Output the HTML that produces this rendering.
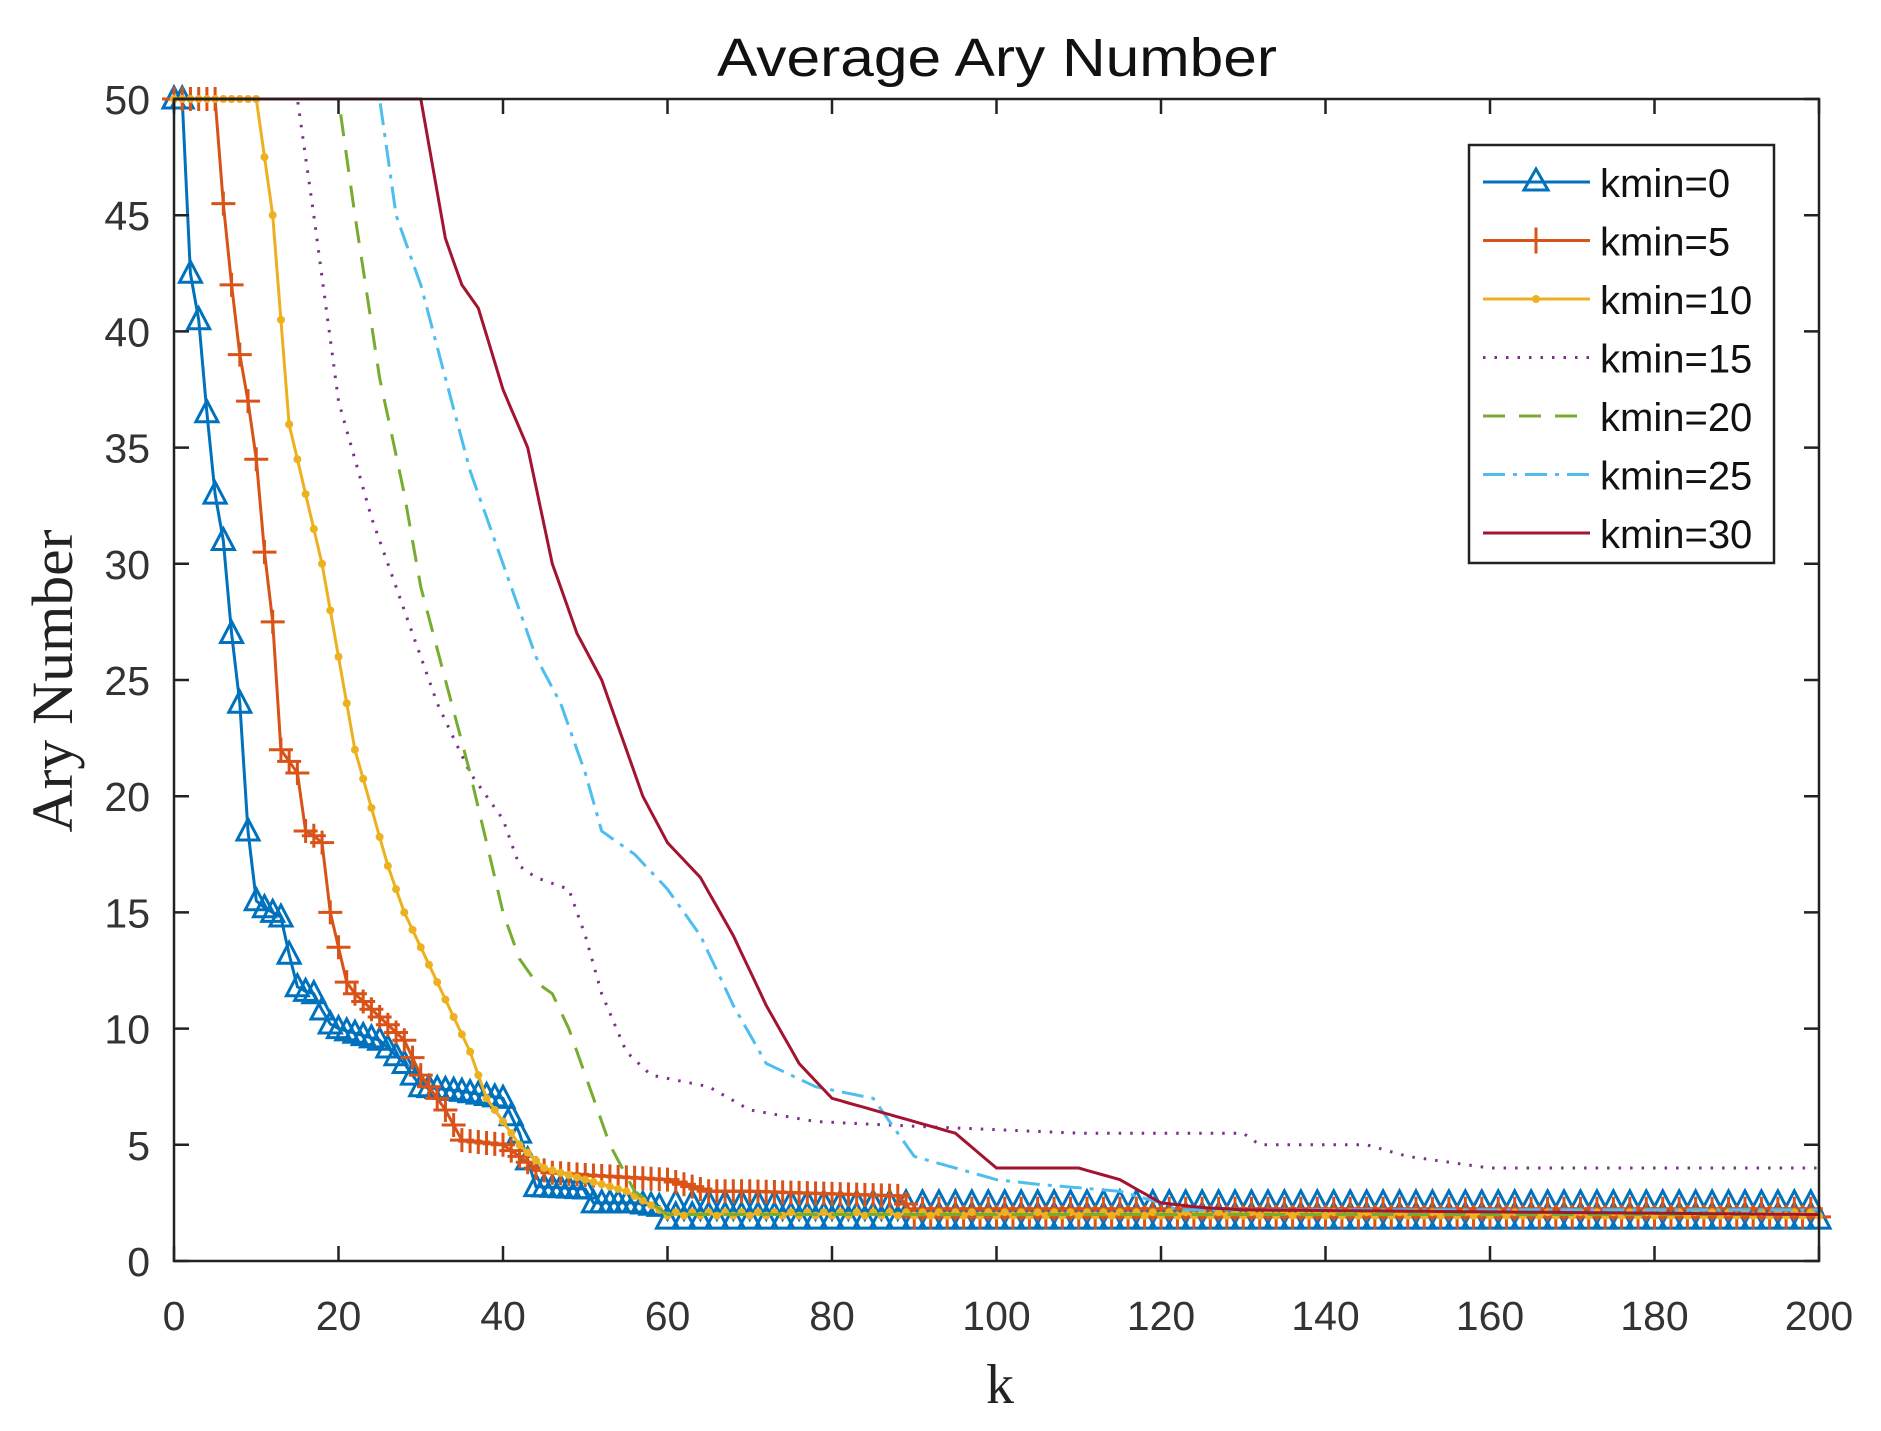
<!DOCTYPE html>
<html><head><meta charset="utf-8"><style>
html,body{margin:0;padding:0;background:#fff;}
svg{display:block;}
</style></head><body>
<svg id="s" width="1881" height="1431" xmlns="http://www.w3.org/2000/svg">
<rect width="1881" height="1431" fill="#fff"/>
<g id="series"></g>
<g id="axes"></g>
<text x="997" y="76" font-family="Liberation Sans, sans-serif" font-size="54" text-anchor="middle" fill="#111" textLength="560" lengthAdjust="spacingAndGlyphs">Average Ary Number</text>
<text x="1000" y="1403" font-family="Liberation Serif, serif" font-size="56" text-anchor="middle" fill="#222">k</text>
<text transform="translate(72,681) rotate(-90)" font-family="Liberation Serif, serif" font-size="58" text-anchor="middle" fill="#222" textLength="303" lengthAdjust="spacingAndGlyphs">Ary Number</text>
<g id="legend"></g>
</svg>
<script>
var NS="http://www.w3.org/2000/svg";
function X(k){return 174+k*8.225;}
function Y(v){return 1261-v*23.24;}
function el(t,a,p){var e=document.createElementNS(NS,t);for(var k in a)e.setAttribute(k,a[k]);(p||document.getElementById('series')).appendChild(e);return e;}
function interp(pts,k){if(k<=pts[0][0])return pts[0][1];for(var i=1;i<pts.length;i++){if(k<=pts[i][0]){var a=pts[i-1],b=pts[i];return a[1]+(b[1]-a[1])*(k-a[0])/(b[0]-a[0]);}}return pts[pts.length-1][1];}
function sample(pts,tail){var r=[];for(var k=0;k<=200;k++){var v=interp(pts,k);if(tail)v=tail(k,v);r.push([k,v]);}return r;}
function path(arr){return arr.map(function(p,i){return (i?'L':'M')+X(p[0]).toFixed(1)+' '+Y(p[1]).toFixed(1);}).join(' ');}
var C={b:'#0072BD',o:'#D95319',y:'#EDB120',p:'#7E2F8E',g:'#77AC30',c:'#4DBEEE',r:'#A2142F'};
var W=3;
var d0=[[0,50],[1,50],[2,42.5],[3,40.5],[4,36.5],[5,33],[6,31],[7,27],[8,24],[9,18.5],[10,15.5],[11,15.2],[12,15],[13,14.8],[14,13.2],[15,11.8],[16,11.6],[17,11.5],[18,10.8],[19,10.2],[20,10],[25,9.5],[28,8.5],[30,7.5],[35,7.3],[40,7],[42,5.5],[44,3.2],[50,3.1],[51,2.5],[56,2.5],[60,2.3],[80,2],[200,2]];
var d5=[[0,50],[5,50],[6,45.5],[7,42],[8,39],[9,37],[10,34.5],[11,30.5],[12,27.5],[13,22],[14,21.5],[15,21],[16,18.5],[17,18.3],[18,18],[19,15],[20,13.5],[21,12],[22,11.5],[25,10.5],[28,9.5],[30,8],[33,6.5],[35,5.2],[40,5],[42,4.5],[44,4],[46,3.8],[50,3.7],[60,3.5],[65,3],[70,3],[88,2.8],[90,2.1],[200,2.1]];
var d10=[[0,50],[10,50],[12,45],[14,36],[16,33],[18,30],[20,26],[22,22],[24,19.5],[26,17],[28,15],[30,13.5],[32,12],[34,10.5],[36,9],[38,7],[40,6],[42,5],[45,4],[50,3.5],[55,3],[60,2],[200,2]];
var d15=[[0,50],[15,50],[17,45],[20,37],[24,32],[28,28],[32,24],[36,21],[40,19],[42,17],[44,16.5],[48,16],[50,14],[52,11.5],[55,9],[58,8],[65,7.5],[70,6.5],[78,6],[90,5.8],[110,5.5],[130,5.5],[132,5],[145,5],[150,4.5],[160,4],[200,4]];
var d20=[[0,50],[20,50],[22,45],[25,38],[28,33],[30,29],[33,25],[36,21],[38,18],[40,15],[42,13],[44,12],[46,11.5],[48,10],[50,8],[53,5],[56,3],[60,2],[200,2]];
var d25=[[0,50],[25,50],[27,45],[30,42],[33,38],[36,34],[40,30],[44,26],[47,24],[50,21],[52,18.5],[56,17.5],[60,16],[64,14],[68,11],[72,8.5],[75,8],[78,7.5],[85,7],[90,4.5],[100,3.5],[105,3.3],[115,3],[120,2.5],[122,2.2],[200,2.2]];
var d30=[[0,50],[30,50],[33,44],[35,42],[37,41],[40,37.5],[43,35],[46,30],[49,27],[52,25],[54,23],[57,20],[60,18],[64,16.5],[68,14],[72,11],[76,8.5],[80,7],[85,6.5],[90,6],[95,5.5],[100,4],[110,4],[115,3.5],[120,2.5],[125,2.3],[130,2.2],[200,2]];
var s0=sample(d0,function(k,v){return k>=60?(k%2?2.5:1.8):v;});
var s5=sample(d5,function(k,v){return k>=90?(k%2?2.25:1.9):v;});
var s10=sample(d10,function(k,v){return k>=60?(k%2?2.1:1.95):v;});
el('path',{d:path(s0),fill:'none',stroke:C.b,'stroke-width':W});
s0.forEach(function(p){var x=X(p[0]),y=Y(p[1]);el('path',{d:'M'+(x-11)+' '+(y+9)+'L'+x+' '+(y-12)+'L'+(x+11)+' '+(y+9)+'Z',fill:'none',stroke:C.b,'stroke-width':W});});
el('path',{d:path(s5),fill:'none',stroke:C.o,'stroke-width':W});
s5.forEach(function(p){var x=X(p[0]),y=Y(p[1]);el('path',{d:'M'+(x-12)+' '+y+'H'+(x+12)+'M'+x+' '+(y-12)+'V'+(y+12),stroke:C.o,'stroke-width':W});});
el('path',{d:path(s10),fill:'none',stroke:C.y,'stroke-width':W});
s10.forEach(function(p){el('circle',{cx:X(p[0]),cy:Y(p[1]),r:4,fill:C.y});});
el('path',{d:path(sample(d15)),fill:'none',stroke:C.p,'stroke-width':W,'stroke-dasharray':'2.5 9'});
el('path',{d:path(sample(d20)),fill:'none',stroke:C.g,'stroke-width':W,'stroke-dasharray':'22 14'});
el('path',{d:path(sample(d25)),fill:'none',stroke:C.c,'stroke-width':W,'stroke-dasharray':'22 8 4 8'});
el('path',{d:path(sample(d30)),fill:'none',stroke:C.r,'stroke-width':W});
var A=document.getElementById('axes');
el('rect',{x:174,y:99,width:1645,height:1162,fill:'none',stroke:'#222','stroke-width':2.5},A);
for(var k=0;k<=200;k+=20){var x=X(k);
el('path',{d:'M'+x+' 1261V1246M'+x+' 99V114',stroke:'#222','stroke-width':2.5},A);
var t=el('text',{x:x,y:1330,'font-family':'Liberation Sans, sans-serif','font-size':41,'text-anchor':'middle',fill:'#333'},A);t.textContent=k;}
for(var v=0;v<=50;v+=5){var y=Y(v);
el('path',{d:'M174 '+y+'H189M1819 '+y+'H1804',stroke:'#222','stroke-width':2.5},A);
var t=el('text',{x:150,y:y+15,'font-family':'Liberation Sans, sans-serif','font-size':41,'text-anchor':'end',fill:'#333'},A);t.textContent=v;}
var L=document.getElementById('legend');
el('rect',{x:1469,y:145,width:305,height:418,fill:'#fff',stroke:'#222','stroke-width':2.5},L);
var items=[['kmin=0',C.b,'',"tri"],['kmin=5',C.o,'',"plus"],['kmin=10',C.y,'',"dot"],['kmin=15',C.p,'2.5 9',""],['kmin=20',C.g,'22 14',""],['kmin=25',C.c,'22 8 4 8',""],['kmin=30',C.r,'',""]];
items.forEach(function(it,i){var y=182+i*58.5;
el('path',{d:'M1483 '+y+'H1590',stroke:it[1],'stroke-width':W,'stroke-dasharray':it[2]||'none'},L);
var x=1536;
if(it[3]=='tri')el('path',{d:'M'+(x-12)+' '+(y+8)+'L'+x+' '+(y-13)+'L'+(x+12)+' '+(y+8)+'Z',fill:'none',stroke:it[1],'stroke-width':W},L);
if(it[3]=='plus')el('path',{d:'M'+x+' '+(y-13)+'V'+(y+13),stroke:it[1],'stroke-width':W},L);
if(it[3]=='dot')el('circle',{cx:x,cy:y,r:4,fill:it[1]},L);
var t=el('text',{x:1600,y:y+15,'font-family':'Liberation Sans, sans-serif','font-size':40,fill:'#111'},L);t.textContent=it[0];});
</script>
</body></html>
